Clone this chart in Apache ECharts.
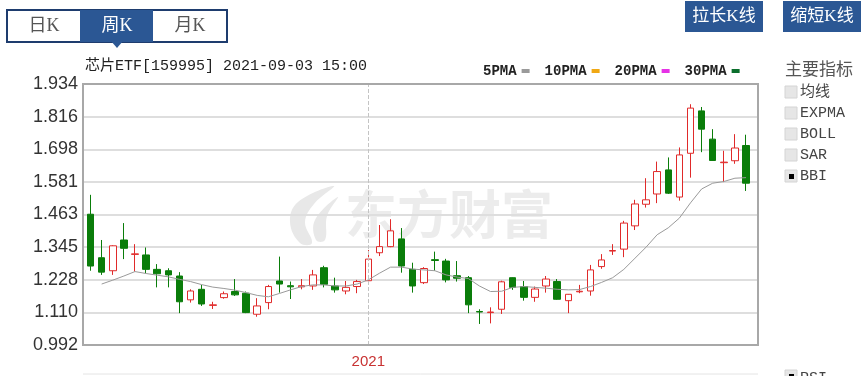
<!DOCTYPE html>
<html>
<head>
<meta charset="utf-8">
<script src="https://cdn.jsdelivr.net/npm/echarts@6/dist/echarts.min.js"></script>
<style>
html,body{margin:0;padding:0;background:#fff;}
#chart{width:864px;height:376px;}
</style>
</head>
<body>
<div id="chart"></div>
<script>
// ---- data ----
const categories = [
  '2020-07-17','2020-07-24','2020-07-31','2020-08-07','2020-08-14','2020-08-21','2020-08-28','2020-09-04','2020-09-11','2020-09-18',
  '2020-09-25','2020-09-30','2020-10-09','2020-10-16','2020-10-23','2020-10-30','2020-11-06','2020-11-13','2020-11-20','2020-11-27',
  '2020-12-04','2020-12-11','2020-12-18','2020-12-25','2020-12-31','2021-01-08','2021-01-15','2021-01-22','2021-01-29','2021-02-05',
  '2021-02-10','2021-02-19','2021-02-26','2021-03-05','2021-03-12','2021-03-19','2021-03-26','2021-04-02','2021-04-09','2021-04-16',
  '2021-04-23','2021-04-30','2021-05-07','2021-05-14','2021-05-21','2021-05-28','2021-06-04','2021-06-11','2021-06-18','2021-06-25',
  '2021-07-02','2021-07-09','2021-07-16','2021-07-23','2021-07-30','2021-08-06','2021-08-13','2021-08-20','2021-08-27','2021-09-03'
];
const openVals  = [1.464,1.307,1.260,1.371,1.319,1.317,1.265,1.260,1.241,1.155, 1.193,1.135,1.163,1.185,1.179,1.103,1.145,1.223,1.206,1.202,
                   1.205,1.271,1.205,1.187,1.203,1.224,1.325,1.347,1.375,1.265, 1.217,1.300,1.295,1.242,1.235,1.113,1.109,1.121,1.235,1.203,
                   1.164,1.205,1.221,1.152,1.184,1.187,1.275,1.331,1.338,1.422, 1.500,1.537,1.624,1.526,1.684,1.837,1.735,1.650,1.657,1.712];
const closeVals = [1.277,1.255,1.350,1.341,1.321,1.265,1.249,1.245,1.148,1.187, 1.140,1.137,1.177,1.173,1.109,1.133,1.203,1.212,1.202,1.206,
                   1.245,1.211,1.191,1.200,1.221,1.302,1.347,1.404,1.277,1.205, 1.268,1.297,1.227,1.233,1.137,1.111,1.111,1.220,1.200,1.164,
                   1.194,1.230,1.157,1.175,1.186,1.263,1.299,1.333,1.432,1.501, 1.516,1.618,1.540,1.678,1.847,1.771,1.658,1.652,1.703,1.576];
const lowVals   = [1.260,1.245,1.245,1.302,1.257,1.251,1.200,1.200,1.107,1.145, 1.133,1.122,1.159,1.169,1.107,1.094,1.121,1.181,1.158,1.193,
                   1.191,1.200,1.181,1.175,1.179,1.221,1.313,1.345,1.253,1.181, 1.212,1.260,1.218,1.221,1.107,1.068,1.070,1.104,1.191,1.152,
                   1.148,1.181,1.155,1.107,1.179,1.170,1.267,1.317,1.309,1.407, 1.488,1.504,1.537,1.513,1.596,1.688,1.657,1.580,1.646,1.548];
const highVals  = [1.534,1.371,1.352,1.432,1.356,1.344,1.284,1.269,1.255,1.193, 1.209,1.148,1.185,1.230,1.185,1.161,1.209,1.311,1.221,1.230,
                   1.263,1.278,1.235,1.223,1.227,1.335,1.425,1.446,1.414,1.289, 1.273,1.329,1.303,1.295,1.241,1.121,1.128,1.224,1.236,1.223,
                   1.203,1.241,1.230,1.176,1.209,1.281,1.320,1.356,1.440,1.516, 1.594,1.654,1.669,1.705,1.861,1.851,1.771,1.693,1.753,1.751];
const bbiVals   = [null,1.212,1.226,1.241,1.257,1.250,1.244,1.238,1.229,1.221, 1.210,1.201,1.196,1.190,1.181,1.171,1.166,1.178,1.191,1.203,
                   1.209,1.209,1.205,1.205,1.212,1.227,1.251,1.273,1.273,1.266, 1.263,1.260,1.245,1.237,1.232,1.205,1.185,1.186,1.200,1.203,
                   1.200,1.197,1.193,1.191,1.192,1.203,1.218,1.235,1.265,1.305, 1.345,1.390,1.415,1.450,1.505,1.555,1.576,1.582,1.594,1.596];
const yTickLabels = ['0.992','1.110','1.228','1.345','1.463','1.581','1.698','1.816','1.934'];
const yMin = 0.992, yMax = 1.934;
const yearLabel = '2021';
const yearMarkIndex = 25;
const maNames = ['5PMA','10PMA','20PMA','30PMA'];
const maColors = ['#9a9a9a','#f0a814','#e632e6','#0b6e2c'];
const titleText = '芯片ETF[159995] 2021-09-03 15:00';
const periodTabs = ['日K','周K','月K'];
const indicatorItems = ['均线','EXPMA','BOLL','SAR','BBI'];

// ---- chart ----
const chart = echarts.init(document.getElementById('chart'), null, {renderer:'canvas'});
const candleData = categories.map((_, i) => [openVals[i], closeVals[i], lowVals[i], highVals[i]]);

const UP = '#e02a2a', DOWN = '#0a7d0a', NAVY = '#2b5794';
const cjk = '"Liberation Serif","Noto Sans CJK SC"';

const graphics = [];
// watermark
graphics.push({type:'text', z:-5, x:345, y:214, style:{text:'东方财富', fill:'#ececec', font:'bold 52px "Noto Sans CJK SC"', textVerticalAlign:'middle'}});
graphics.push({type:'polygon', z:-5, shape:{points:[[300,243],[290,222],[298,202],[334,186],[314,204],[305,222],[312,243]], smooth:0.4}, style:{fill:'#e8e8e8'}});
graphics.push({type:'polygon', z:-5, shape:{points:[[316,240],[315,220],[338,197],[327,216],[325,240]], smooth:0.4}, style:{fill:'#e8e8e8'}});
// tabs
graphics.push({type:'rect', shape:{x:7,y:10,width:220,height:32}, style:{fill:'#fff', stroke:'#1e3c6e', lineWidth:2}});
graphics.push({type:'rect', shape:{x:80,y:10,width:73,height:32}, style:{fill:NAVY}});
graphics.push({type:'polygon', shape:{points:[[111,41],[123,41],[117,48]]}, style:{fill:NAVY}});
periodTabs.forEach((t, i) => {
  graphics.push({type:'text', x:44 + i*73, y:26, style:{text:t, fill: i===1 ? '#fff' : '#555', font:'18px ' + cjk, textAlign:'center', textVerticalAlign:'middle'}});
});
// buttons
[['拉长K线',685],['缩短K线',783]].forEach(([t,x]) => {
  graphics.push({type:'rect', shape:{x:x,y:1,width:78,height:31}, style:{fill:NAVY}});
  graphics.push({type:'text', x:x+39, y:17, style:{text:t, fill:'#fff', font:'17px ' + cjk, textAlign:'center', textVerticalAlign:'middle'}});
});
// title
graphics.push({type:'text', x:85, y:66, style:{text:titleText, fill:'#222', font:'15px "Liberation Mono","Noto Sans CJK SC"', textVerticalAlign:'middle'}});
// right panel
graphics.push({type:'text', x:785, y:71, style:{text:'主要指标', fill:'#555', font:'17px ' + cjk, textVerticalAlign:'middle'}});
indicatorItems.forEach((t, i) => {
  const cy = 92 + i*21;
  graphics.push({type:'rect', shape:{x:785,y:cy-6,width:12,height:12}, style:{fill:'#e6e6e6', stroke:'#d4d4d4', lineWidth:1}});
  if (t === 'BBI') graphics.push({type:'rect', shape:{x:789,y:cy-2,width:5,height:5}, style:{fill:'#000'}});
  graphics.push({type:'text', x:800, y:cy, style:{text:t, fill:'#444', font:'15px "Liberation Mono","Noto Sans CJK SC"', textVerticalAlign:'middle'}});
});
graphics.push({type:'rect', shape:{x:785,y:370,width:12,height:12}, style:{fill:'#e6e6e6', stroke:'#d4d4d4'}});
graphics.push({type:'rect', shape:{x:789,y:374,width:5,height:5}, style:{fill:'#000'}});
graphics.push({type:'text', x:800, y:378, style:{text:'RSI', fill:'#444', font:'15px "Liberation Mono"', textVerticalAlign:'middle'}});
// frame
graphics.push({type:'rect', z:50, shape:{x:83,y:84,width:675,height:261}, style:{fill:'none', stroke:'#a8a8a8', lineWidth:2}});
graphics.push({type:'line', shape:{x1:83,y1:374,x2:758,y2:374}, style:{stroke:'#e4e4e4', lineWidth:1}});

const option = {
  animation: false,
  backgroundColor: '#fff',
  legend: {
    data: maNames, left: 478, top: 59, align: 'right', icon: 'rect',
    itemWidth: 8, itemHeight: 4, itemGap: 15, selectedMode: false,
    textStyle: {fontFamily: '"Liberation Mono"', fontWeight: 'bold', fontSize: 14, color: '#222'}
  },
  grid: [
    {left: 83, top: 84, width: 675, height: 261},
    {left: 85, top: 84, width: 666.6, height: 261}
  ],
  xAxis: [
    {gridIndex: 0, type: 'value', min: 0, max: 1, show: false},
    {gridIndex: 1, type: 'category', data: categories, boundaryGap: true,
     axisLine: {show: false}, axisTick: {show: false}, splitLine: {show: false},
     axisLabel: {interval: 0, margin: 9, color: '#c83232', fontSize: 15, fontFamily: '"Liberation Sans"',
       formatter: (v, i) => i === yearMarkIndex ? yearLabel : ''}}
  ],
  yAxis: [
    {gridIndex: 0, type: 'value', min: 0, max: yTickLabels.length - 1, interval: 1,
     axisLine: {show: false}, axisTick: {show: false},
     splitLine: {show: true, lineStyle: {color: '#dedede', width: 2}},
     axisLabel: {margin: 5, color: '#333', fontSize: 18, fontFamily: '"Liberation Sans"', formatter: v => yTickLabels[v]}},
    {gridIndex: 1, type: 'value', min: yMin, max: yMax, show: false, splitLine: {show: false}}
  ],
  series: [
    {type: 'candlestick', name: 'K', xAxisIndex: 1, yAxisIndex: 1, data: candleData, barWidth: 7,
     itemStyle: {color: '#fff', color0: DOWN, borderColor: UP, borderColor0: DOWN, borderWidth: 1},
     markLine: {silent: true, symbol: ['none','none'], label: {show: false},
       lineStyle: {type: 'dashed', color: '#c4c4c4', width: 1},
       data: [{xAxis: yearMarkIndex}]}},
    {type: 'line', name: 'BBI', xAxisIndex: 1, yAxisIndex: 1, data: bbiVals, showSymbol: false, symbol: 'none',
     lineStyle: {color: '#9a9a9a', width: 1}, itemStyle: {color: '#9a9a9a'}, z: 3},
    ...maNames.map((n, i) => ({type: 'line', name: n, xAxisIndex: 1, yAxisIndex: 1, data: [], color: maColors[i]}))
  ],
  graphic: graphics
};
chart.setOption(option);
</script>
</body>
</html>
